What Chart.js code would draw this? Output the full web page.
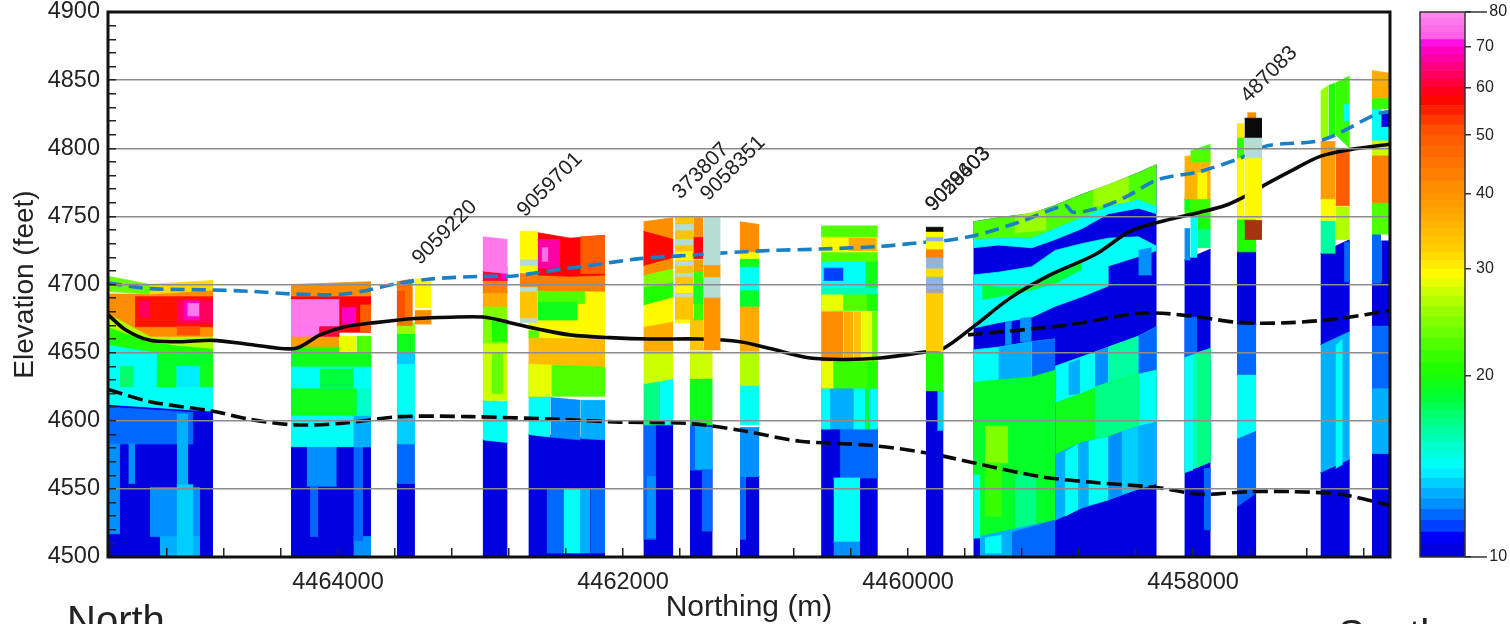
<!DOCTYPE html>
<html><head><meta charset="utf-8">
<script src="https://cdn.jsdelivr.net/npm/chart.js@4"></script>
<style>
html,body{margin:0;padding:0;background:#fff;overflow:hidden;width:1510px;height:624px}
#main{position:absolute;left:0;top:0;filter:blur(0.5px)}
#bar{position:absolute;left:1400px;top:0;filter:blur(0.5px)}
.side{position:absolute;font:40px "Liberation Sans",sans-serif;color:#222;line-height:40px}
</style></head><body>
<canvas id="main" width="1510" height="624"></canvas>
<canvas id="bar" width="110" height="624"></canvas>
<div class="side" style="left:67px;top:600px">North</div>
<div class="side" style="left:1338px;top:614px">South</div>
<script>
// value codes under 10 are the well-log classes that sit outside the colour scale
const BLACK=0,PALE=1,BROWN=2,LTBLUE=3,GREY=4;
const classColours=['#0a0a0a','#b4dcd2','#a83210','#8fb4e4','#a0a8a0'];
const scaleValues=[10,10.6,11,12,13.8,15.8,18.2,20,24,27.5,28.7,31.7,36.3,41.8,50,56.5,64,69.7,72,80];
const scaleColours=['#0000e0','#0000ff','#0040ff','#0090ff','#00ffff','#00ffa8','#00ff30','#20ff00','#80ff00','#d8ff00','#ffff00','#ffd000','#ffa800','#ff8000','#ff5000','#ff0000','#ff0080','#ff00e0','#ff60e8','#ff90f0'];
const barLevels=[10,10.5,11,11.5,12,12.5,13,13.5,14,14.5,15,15.5,16,16.5,17,17.5,18,18.5,19,19.5,20,21,22,23,24,25,26,27,28,29,30,31,32,33,34,35,36,37,38,39,40,42,44,46,48,50,52,54,56,58,60,62,64,66,68,70,72,74,76,78,80];
const barTicks=[10,20,30,40,50,60,70,80];

// rows: [value,xL,xR,top,bottom] or [value,xL,xR,topL,topR,botL,botR] or [value,xs,tops,bottoms]
const curtainA=[
[10,4465614,4464877,4612,4607,4500,4500],
[11.5,4465614,4465015,4610,4606,4583,4583],
[12,4465614,4465530,4583,4517],
[12,4465471,4465424,4583,4554],
[12.5,4465132,4465050,4605,4553],
[12,4465319,4464968,4551,4515],
[12.5,4465249,4464968,4515,4500],
[13,4465132,4465015,4553,4500],
[14,4465614,4464877,4656,4649,4612,4607],
[18.5,4465272,4464877,4649,4640],
[17,4465530,4465436,4640,4625],
[18.5,4465272,4465132,4640,4625],
[13.5,4465132,4464968,4640,4625],
[19,4464968,4464877,4642,4625],
[20,[4465614,4465319,4465132,4464877],[4669,4658,4655,4653],[4656,4651,4650,4649]],
[26,[4465614,4465319,4464877],[4679,4662,4662],[4669,4658,4653]],
[40,[4465614,4465319,4464877],[4693,4693,4696],[4679,4662,4662]],
[23,4465614,4465319,4706,4700,4695,4693],
[31,4465319,4464877,4700,4703,4693,4696],
[55,4465424,4464877,4691,4669],
[50,4465132,4464968,4669,4663],
[62,4465389,4465319,4688,4676],
[62,4465132,4464877,4688,4672],
[68,4465085,4464968,4688,4674],
[76,4465057,4464973,4686,4677]];
const curtainB=[
[10,4464330,4463768,4583,4500],
[12,4464220,4464009,4581,4552],
[11.5,4464196,4464138,4552,4515],
[12,4463892,4463768,4515,4500],
[11.5,4463892,4463823,4581,4512],
[14,4464330,4463768,4604,4581],
[12.5,4463892,4463768,4604,4581],
[19,4464330,4463768,4624,4604],
[15,4463871,4463768,4624,4604],
[14,4464330,4463768,4640,4624],
[18,4464126,4463892,4638,4624],
[19,4464330,4463768,4650,4640],
[38,4464330,4463989,4665,4654],
[20,4464330,4463989,4654,4650],
[28,4463989,4463871,4662,4650],
[22,4463871,4463768,4662,4650],
[40,4464330,4463768,4700,4702,4691,4691],
[57,4464330,4463768,4691,4665],
[48,4463845,4463768,4685,4665],
[76,4464330,4463989,4689,4669],
[76,4464330,4464130,4669,4662],
[60,4464130,4463989,4669,4662],
[68,4463974,4463871,4683,4671]];
const curtainC=[
[10,4463588,4463460,4554,4500],
[11.5,4463588,4463460,4583,4554],
[13,4463588,4463460,4604,4583],
[14,4463588,4463460,4650,4604],
[13,4463588,4463460,4650,4642],
[19,4463588,4463460,4664,4650],
[25,4463588,4463460,4672,4664],
[44,4463588,4463475,4702,4704,4670,4670],
[50,4463588,4463530,4695,4676],
[29,4463460,4463343,4704,4683],
[40,4463460,4463343,4681,4671]];
const curtainD=[
[10,4462985,4462810,4586,4584,4500,4500],
[14,4462985,4462810,4615,4614,4586,4584],
[27,4462985,4462810,4657,4615],
[23,4462920,4462840,4650,4620],
[24,4462985,4462810,4684,4657],
[20,4462920,4462810,4674,4658],
[36,4462985,4462810,4694,4684],
[42,4462985,4462810,4703,4694],
[60,4462985,4462810,4710,4708,4703,4703],
[68,4462860,4462810,4713,4704],
[76,4462985,4462810,4735,4733,4710,4708]];
const curtainE=[
[10,4462664,4462126,4590,4587,4500,4500],
[11.5,4462536,4462419,4550,4503],
[14,4462419,4462302,4550,4503],
[12.5,4462302,4462230,4550,4503],
[11.5,4462230,4462126,4550,4503],
[14,4462664,4462510,4618,4618,4590,4588],
[12,4462510,4462300,4617,4615,4588,4586],
[12.5,4462300,4462126,4615,4615,4587,4586],
[22,4462664,4462126,4641,4618],
[28,4462664,4462500,4642,4618],
[34,4462664,4462126,4661,4660,4642,4640],
[29,4462664,4462126,4696,4661],
[22,4462664,4462590,4666,4661],
[22,4462599,4462267,4696,4686],
[19,4462599,4462320,4687,4674],
[33,4462723,4462599,4697,4695,4674,4672],
[PALE,4462723,4462599,4675,4672],
[42,4462723,4462126,4708,4707,4696,4695],
[PALE,4462723,4462599,4698,4695],
[29,4462723,4462599,4739,4709],
[PALE,4462723,4462599,4718,4714],
[57,[4462599,4462370,4462126],[4738,4734,4736],[4707,4706,4707]],
[48,4462300,4462126,4735,4736,4708,4708],
[66,4462599,4462442,4733,4712],
[74,4462571,4462524,4727,4717]];
const curtainF=[
[10,4461857,4461647,4597,4500],
[11.5,4461857,4461769,4597,4513],
[12,4461833,4461769,4559,4514],
[16.5,4461857,4461740,4627,4630,4597,4597],
[14,4461740,4461647,4631,4597],
[27,4461857,4461647,4650,4650,4627,4631],
[36,4461857,4461647,4669,4673,4651,4651],
[29,4461857,4461647,4686,4691,4669,4673],
[20,4461857,4461647,4698,4702,4685,4691],
[24,4461857,4461647,4707,4712,4698,4702],
[40,4461857,4461647,4746,4749,4707,4712],
[56,4461857,4461647,4739,4733,4714,4720]];
const curtainG=[
[33,4461635,4461507,4750,4672],
[PALE,4461635,4461507,4744,4740],
[PALE,4461635,4461507,4733,4729],
[29,4461635,4461507,4724,4718],
[PALE,4461635,4461507,4717,4714],
[PALE,4461635,4461507,4708,4706],
[29,4461635,4461507,4700,4694],
[PALE,4461635,4461507,4693,4691],
[29,4461635,4461507,4674,4672]];
const curtainH=[
[10,4461530,4461371,4597,4500],
[12.5,4461530,4461371,4597,4595,4564,4564],
[11.5,4461530,4461495,4597,4564],
[11.5,4461448,4461371,4564,4519],
[19,4461530,4461371,4631,4597],
[27,4461530,4461371,4651,4631],
[33,4461530,4461436,4675,4652],
[21,4461507,4461436,4710,4674],
[19,4461507,4461436,4700,4686],
[38,4461507,4461436,4718,4710],
[57,4461507,4461436,4735,4719],
[40,4461507,4461436,4749,4735]];
const curtainJ=[
[10,4461179,4461043,4559,4500],
[11.5,4461179,4461137,4559,4513],
[12,4461179,4461043,4595,4559],
[14,4461179,4461043,4626,4597],
[26,4461179,4461043,4650,4626],
[36,4461179,4461043,4684,4651],
[18.5,4461179,4461043,4696,4684],
[14,4461179,4461043,4713,4696],
[19,4461179,4461043,4719,4713],
[29,4461179,4461043,4724,4719],
[40,4461179,4461043,4746,4744,4724,4724]];
const curtainK=[
[10,4460610,4460212,4594,4500],
[11.5,4460477,4460212,4594,4558],
[14,4460523,4460336,4558,4511],
[12,4460523,4460336,4511,4500],
[12.5,4460610,4460212,4624,4594],
[14,4460610,4460545,4624,4594],
[14,4460383,4460300,4624,4594],
[18,4460300,4460266,4624,4594],
[14,4460266,4460212,4624,4594],
[21,4460610,4460212,4644,4624],
[28,4460610,4460523,4644,4624],
[20,4460290,4460212,4644,4624],
[40,4460610,4460453,4680,4644],
[36,4460453,4460383,4680,4644],
[33,4460383,4460325,4680,4644],
[28,4460325,4460254,4680,4644],
[23,4460254,4460212,4680,4644],
[22,4460610,4460212,4693,4681],
[28,4460610,4460453,4693,4681],
[20,4460290,4460212,4693,4681],
[15.5,4460610,4460212,4698,4693],
[14,4460610,4460212,4718,4698],
[11,4460593,4460453,4712,4703],
[19,4460300,4460212,4718,4698],
[22,4460610,4460212,4724,4717],
[29,4460610,4460212,4735,4724],
[36,4460418,4460220,4734,4725],
[22,4460610,4460212,4743,4735]];
const curtainX=[4459542,4459366,4459132,4458968,4458781,4458594,4458384,4458255];
const curtainLeft=[4459542,4459366,4459132,4458968];
const curtainRight=[4458968,4458781,4458594,4458384,4458255];
const curtainM=[
[10,curtainX,[4746,4749,4752,4758,4766,4773,4782,4788],[4500,4500,4500,4500,4500,4500,4500,4500]],
[22,curtainX,[4746,4749,4752,4758,4766,4773,4782,4788],[4733,4734,4734,4741,4749,4757,4762,4757]],
[25,4459250,4459030,4750,4755,4738,4740],
[25,4458700,4458450,4769,4779,4757,4760],
[14,curtainX,[4733,4734,4734,4741,4749,4757,4762,4757],[4727,4729,4727,4733,4741,4752,4756,4752]],
[14,curtainX,[4707,4709,4713,4725,4730,4734,4735,4728],[4668,4672,4676,4684,4691,4699,4720,4725]],
[10,4458594,4458384,4713,4720,4695,4695],
[18,[4459480,4459366,4459132,4458968,4458781],[4700,4698,4698,4708,4718],[4689,4691,4696,4701,4711]],
[12,4458384,4458290,4725,4727,4707,4707],
[14,curtainLeft,[4652,4654,4658,4660],[4628,4630,4632,4637]],
[12.5,4459366,4459132,4654,4658,4630,4632],
[11.5,4459132,4458968,4658,4660,4632,4637],
[12,4459319,4459272,4672,4673,4656,4656],
[12,4459214,4459132,4675,4676,4658,4658],
[18.5,curtainLeft,[4628,4630,4632,4637],[4514,4515,4520,4527]],
[14,4459542,4459495,4560,4514],
[24,4459460,4459296,4596,4569],
[21,4459460,4459343,4569,4530],
[16.5,4459250,4459100,4560,4522],
[12.5,4459495,4458968,4515,4527,4500,4500],
[14,4459460,4459343,4514,4516,4503,4503],
[11.5,4459272,4458968,4518,4527,4500,4500],
[14,curtainRight,[4640,4647,4654,4662,4669],[4613,4620,4628,4634,4637]],
[12.5,4458875,4458793,4642,4645,4619,4620],
[12,4458688,4458594,4650,4654,4625,4628],
[16,4458594,4458384,4654,4662,4628,4634],
[11.5,4458384,4458255,4662,4669,4634,4637],
[19,curtainRight,[4613,4620,4628,4634,4637],[4575,4584,4588,4596,4599]],
[16.5,4458688,4458384,4625,4634,4586,4596],
[14,4458384,4458255,4634,4637,4596,4599],
[12.5,curtainRight,[4575,4584,4588,4596,4599],[4527,4536,4542,4550,4554]],
[14,4458898,4458805,4577,4583,4530,4535],
[14,4458734,4458594,4585,4588,4538,4542],
[12,4458594,4458500,4588,4592,4542,4546],
[13,4458500,4458384,4592,4596,4546,4550]];
const curtainN=[
[10,4458061,4457876,4718,4726,4500,4500],
[11.5,4457924,4457876,4565,4520],
[11.5,4458061,4457971,4676,4646],
[15.5,4458061,4457876,4646,4653,4562,4570],
[14,4458061,4458000,4646,4648,4562,4564],
[16.5,4457971,4457876,4650,4653,4566,4570],
[12,4458061,4458019,4741,4718],
[14,4458019,4457971,4755,4720],
[16.5,4457971,4457876,4741,4727],
[19.5,4457971,4457876,4751,4741],
[21,4458061,4457876,4763,4751],
[19,4458061,4458019,4763,4755],
[35,4458061,4457876,4794,4796,4763,4763],
[29,4457971,4457900,4782,4763],
[22,4458019,4457876,4798,4803,4790,4790]];
const curtainO=[
[10,4457692,4457556,4537,4547,4500,4500],
[11.5,4457692,4457556,4587,4593,4537,4547],
[14,4457692,4457556,4634,4640,4587,4593],
[11.5,4457692,4457556,4671,4634],
[10,4457692,4457556,4724,4729,4671,4671],
[20,4457692,4457556,4748,4724],
[29,4457692,4457639,4793,4748],
[21,4457692,4457639,4808,4793],
[30,4457692,4457639,4818,4808],
[40,4457620,4457556,4826,4822]];
const curtainP=[
[10,4457106,4456900,4562,4572,4500,4500],
[12.5,4457106,4456900,4656,4666,4562,4572],
[14,4457000,4456950,4655,4660,4565,4568],
[10,4457106,4456900,4723,4733,4656,4666],
[11.5,4456940,4456900,4731,4702],
[16,4457106,4457000,4747,4723],
[26,4457000,4456900,4757,4733],
[29,4457106,4457000,4763,4747],
[38,4457106,4457000,4805,4763],
[48,4457000,4456900,4800,4758],
[25,4457106,4457050,4842,4846,4808,4808],
[20,4457050,4457000,4846,4848,4808,4810],
[21,4457000,4456900,4848,4853,4810,4800],
[14,4456945,4456905,4832,4820]];
const curtainQ=[
[10,4456745,4456618,4576,4500],
[12.5,4456745,4456618,4624,4576],
[11.5,4456745,4456618,4670,4624],
[10,4456745,4456618,4701,4670],
[11.5,4456745,4456680,4737,4701],
[10,4456680,4456618,4732,4701],
[22,4456745,4456618,4760,4737],
[42,4456745,4456618,4795,4760],
[27,4456745,4456618,4806,4795],
[14,4456745,4456618,4816,4806],
[14,4456745,4456680,4829,4816],
[10,4456680,4456618,4826,4816],
[21,4456745,4456618,4837,4829],
[36,4456745,4456618,4857,4855,4837,4837]];
// solid well logs, painted over the interpreted surfaces
const wellI=[[PALE,4461436,4461315,4749,4714],[38,4461436,4461315,4714,4705],[PALE,4461436,4461315,4705,4690],[39,4461436,4461315,4690,4652]];
const wellL=[
[10,4459875,4459751,4622,4500],[13,4459795,4459751,4622,4593],
[20,4459875,4459751,4650,4622],
[32,4459875,4459751,4694,4651],[GREY,4459875,4459751,4697,4694],[LTBLUE,4459875,4459751,4706,4697],
[31,4459875,4459751,4712,4706],[LTBLUE,4459875,4459751,4720,4712],[42,4459875,4459751,4726,4720],
[29,4459875,4459751,4732,4726],[LTBLUE,4459875,4459751,4735,4732],[29,4459875,4459751,4739,4735],[BLACK,4459875,4459751,4742,4739]];
const wellO=[[BROWN,4457639,4457516,4747,4733],[29,4457639,4457516,4793,4748],[PALE,4457639,4457516,4808,4793],[BLACK,4457639,4457516,4822,4808]];

const topoX=[4465614,4465495,4465319,4465109,4464877,4464618,4464302,4464126,4463951,4463740,4463460,4463214,4462968,4462793,4462582,4462372,4462091,4461810,4461459,4461179,4460968,4460687,4460442,4460196,4459916,4459754,4459530,4459284,4459003,4458687,4458442,4458196,4457951,4457775,4457649,4457515,4457319,4457108,4456898,4456618];
const topoY=[4678,4667,4659,4658,4659,4656,4653,4663,4669,4672,4675,4676,4676,4672,4667,4663,4661,4660,4660,4658,4653,4646,4645,4646,4650,4653,4670,4690,4707,4722,4739,4747,4753,4758,4764,4772,4783,4794,4799,4803];
const lowerX=[4465614,4465319,4464877,4464618,4464302,4463986,4463565,4463074,4462442,4462021,4461530,4461179,4460758,4460266,4459845,4459494,4459073,4458722,4458252,4457951,4457600,4457319,4456968,4456618];
const lowerY=[4623,4614,4607,4601,4597,4598,4603,4603,4601,4599,4598,4593,4585,4582,4576,4568,4559,4555,4551,4546,4548,4548,4546,4538];
const upperX=[4459579,4458898,4458358,4458021,4457670,4457319,4456968,4456618];
const upperY=[4663,4670,4679,4677,4672,4672,4675,4681];
const waterX=[4465614,4465319,4464877,4464618,4464302,4463951,4463565,4463354,4463003,4462793,4462582,4462231,4461881,4461600,4461319,4460968,4460617,4460196,4459880,4459754,4459530,4459214,4458898,4458842,4458666,4458477,4458245,4457951,4457663,4457473,4457094,4456715,4456618];
const waterY=[4701,4697,4696,4695,4693,4693,4701,4704,4706,4706,4709,4714,4719,4721,4723,4725,4726,4728,4731,4732,4736,4746,4758,4753,4756,4764,4777,4783,4793,4802,4806,4825,4827];

const labelText=['9059220','9059701','373807','9058351','9058403','9029603','487083'];
const labelX=[4463453,4462716,4461628,4461431,4459852,4459852,4457640];
const labelY=[4717,4752,4765,4764,4756,4756,4836];

const elevationTicksStep=10, northingTicksStep=400;
const xMin=4456618,xMax=4465614,yMin=4500,yMax=4900;

function hex(c){return [1,3,5].map(i=>parseInt(c.substr(i,2),16));}
function colourOf(v){
  if(v<10) return classColours[v];
  for(let i=1;i<scaleValues.length;i++){
    if(v<=scaleValues[i]){
      const t=(v-scaleValues[i-1])/(scaleValues[i]-scaleValues[i-1]);
      const a=hex(scaleColours[i-1]),b=hex(scaleColours[i]);
      return 'rgb('+a.map((p,k)=>Math.round(p+(b[k]-p)*t)).join(',')+')';
    }
  }
  return scaleColours[scaleColours.length-1];
}
const zip=(xs,ys)=>xs.map((x,i)=>({x,y:ys[i]}));
function expand(r){
  if(Array.isArray(r[1])) return {v:r[0],xs:r[1],tops:r[2],bots:r[3]};
  if(r.length===5) return {v:r[0],xs:[r[1],r[2]],tops:[r[3],r[3]],bots:[r[4],r[4]]};
  return {v:r[0],xs:[r[1],r[2]],tops:[r[3],r[4]],bots:[r[5],r[6]]};
}
const datasets=[];
function addBands(rows){
  rows.forEach(r=>{
    const b=expand(r),c=colourOf(b.v),idx=datasets.length;
    datasets.push({data:zip(b.xs,b.tops),borderColor:c,borderWidth:0.8,pointRadius:0,fill:false});
    datasets.push({data:zip(b.xs,b.bots),borderColor:c,borderWidth:0.8,pointRadius:0,fill:{target:idx,above:c,below:c}});
  });
}
[curtainA,curtainB,curtainC,curtainD,curtainE,curtainF,curtainG,curtainH,curtainJ,curtainK,curtainM,curtainN,curtainO,curtainP,curtainQ].forEach(addBands);
function addLine(xs,ys,colour,dash){
  datasets.push({data:zip(xs,ys),borderColor:colour,borderWidth:3.6,borderDash:dash,pointRadius:0,fill:false,tension:0.3});
}
addLine(waterX,waterY,'#1a80c6',[14,7]);
addLine(lowerX,lowerY,'#0a0a0a',[15,6]);
addLine(upperX,upperY,'#0a0a0a',[15,6]);
addLine(topoX,topoY,'#0a0a0a',[]);
[wellI,wellL,wellO].forEach(addBands);
// first painted gets the highest order, so the list above reads back to front
datasets.forEach((d,i)=>{d.order=datasets.length-i;});

const FONT='"Liberation Sans",Arial,sans-serif';
const frame={id:'frame',afterDraw(chart){
  const {ctx,chartArea:a}=chart;
  ctx.save();ctx.strokeStyle='#111';ctx.lineWidth=3;
  ctx.strokeRect(a.left,a.top,a.right-a.left,a.bottom-a.top);ctx.restore();
}};
const wellLabels={id:'wellLabels',afterDraw(chart){
  const {ctx,scales:{x,y}}=chart;
  ctx.save();ctx.font='21px '+FONT;ctx.fillStyle='#222';ctx.textBaseline='middle';ctx.textAlign='left';
  labelText.forEach((t,i)=>{
    ctx.save();ctx.translate(x.getPixelForValue(labelX[i]),y.getPixelForValue(labelY[i]));
    ctx.rotate(-Math.PI/4);ctx.fillText(t,0,0);ctx.restore();
  });
  ctx.restore();
}};
new Chart(document.getElementById('main'),{
  type:'line',
  data:{datasets},
  plugins:[frame,wellLabels],
  options:{
    responsive:false,animation:false,events:[],
    layout:{padding:{left:0,right:120,top:12,bottom:0}},
    plugins:{legend:{display:false},tooltip:{enabled:false}},
    elements:{line:{tension:0}},
    scales:{
      x:{type:'linear',reverse:true,min:xMin,max:xMax,
        afterFit(s){s.height=67;s.paddingLeft=0;s.paddingRight=0;},
        border:{display:false},
        grid:{drawOnChartArea:false,tickLength:-9,tickColor:'#222',lineWidth:1.5,z:1},
        ticks:{stepSize:northingTicksStep,includeBounds:false,autoSkip:false,maxRotation:0,padding:20,color:'#222',
          font:{family:FONT,size:23.5},callback:v=>v%2000===0?String(v):''},
        title:{display:true,text:'Northing (m)',color:'#222',font:{family:FONT,size:30,lineHeight:1.1},padding:{top:0,bottom:0}}},
      y:{type:'linear',min:yMin,max:yMax,
        afterFit(s){s.width=108;s.paddingTop=0;s.paddingBottom=0;},
        border:{display:false},
        grid:{z:1,tickLength:-8,tickColor:'#222',lineWidth:1.5,
          color:c=>(c.tick&&c.tick.value%50===0&&c.tick.value!==yMin&&c.tick.value!==yMax)?'#8c8c8c':'rgba(0,0,0,0)'},
        ticks:{stepSize:elevationTicksStep,autoSkip:false,padding:16,color:'#222',
          font:{family:FONT,size:23.5},callback:v=>v%50===0?String(v):''},
        title:{display:true,text:'Elevation (feet)',color:'#222',font:{family:FONT,size:28},padding:{top:8,bottom:0}}}
    }
  }
});

// colour bar
const barSets=[];
for(let i=0;i<barLevels.length-1;i++){
  barSets.push({data:[[barLevels[i],barLevels[i+1]]],backgroundColor:colourOf(barLevels[i]),borderWidth:0,
    grouped:false,categoryPercentage:1,barPercentage:1});
}
const barFrame={id:'barFrame',afterDraw(chart){
  const {ctx,chartArea:a,scales:{y}}=chart;
  ctx.save();ctx.strokeStyle='#333';ctx.lineWidth=1.5;
  ctx.strokeRect(a.left,a.top,a.right-a.left,a.bottom-a.top);
  [barTicks[0],barTicks[barTicks.length-1]].forEach(v=>{
    const p=y.getPixelForValue(v);ctx.beginPath();ctx.moveTo(a.right,p);ctx.lineTo(a.right+22,p);ctx.stroke();
  });
  ctx.restore();
}};
new Chart(document.getElementById('bar'),{
  type:'bar',
  data:{labels:[''],datasets:barSets},
  plugins:[barFrame],
  options:{
    responsive:false,animation:false,events:[],
    layout:{padding:{left:20,right:0,top:12,bottom:67}},
    plugins:{legend:{display:false},tooltip:{enabled:false}},
    scales:{
      x:{display:false,offset:true},
      y:{type:'logarithmic',position:'right',min:10,max:80,
        afterBuildTicks(s){s.ticks=barTicks.map(v=>({value:v,major:true}));},
        afterFit(s){s.width=45;s.paddingTop=0;s.paddingBottom=0;},
        border:{display:false},
        grid:{drawOnChartArea:false,tickLength:6,tickColor:'#333',lineWidth:1.5},
        ticks:{autoSkip:false,padding:5,color:'#222',align:'center',font:{family:FONT,size:16},
          callback:v=>(v===10||v===80)?'   '+v:String(v)}}
    }
  }
});
</script>
</body></html>
